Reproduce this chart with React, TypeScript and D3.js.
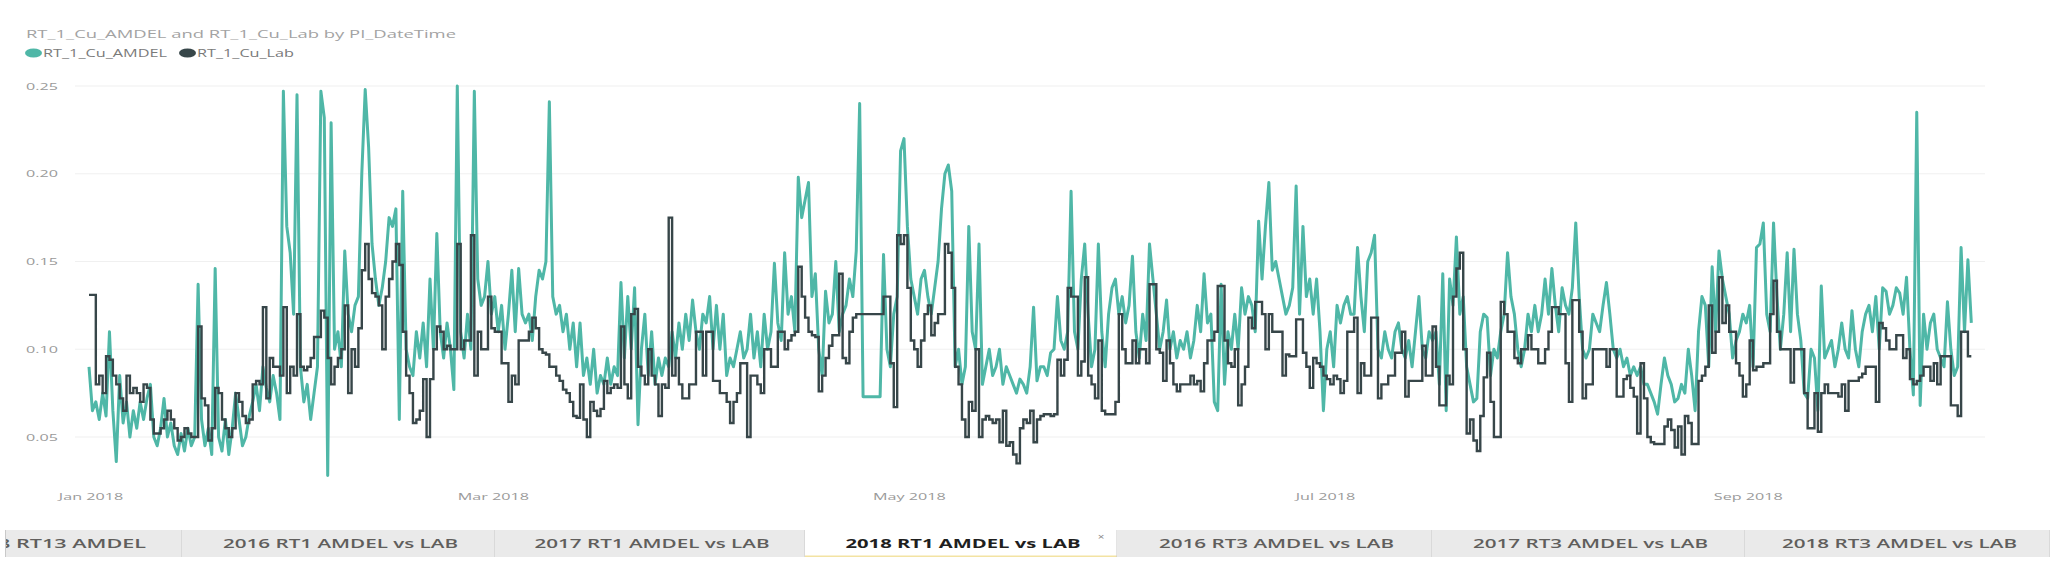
import React from "react";
import * as d3 from "d3";

// ---------- DATA (12-hourly readings, starting 2018-01-01 00:00 UTC) ----------
const START = new Date(Date.UTC(2018, 0, 1));
const STEP_HOURS = 12;

const amdelJan = [.09,.065,.07,.06,.075,.062,.11,.065,.036,.085,
  .058,.07,.05,.065,.055,.07,.06,.072,.08,.05,
  .045,.055,.072,.05,.058,.045,.04,.052,.042,.055,
  .045,.05,.137,.06,.045,.055,.04,.146,.05,.042,
  .06,.04,.055,.075,.06,.045,.05,.062,.07,.08,
  .065,.09,.078,.07,.085,.075,.06,.247,.17,.155];
const amdelFeb = [.12,.245,.09,.07,.08,.06,.075,.09,.247,.232,
  .028,.229,.1,.11,.09,.156,.12,.11,.125,.13,
  .2,.248,.215,.16,.14,.125,.135,.15,.175,.17,
  .18,.06,.19,.1,.09,
  .085,.11,.095,.115,.09,.14,.1,.166,.11,.095,
  .115,.1,.077,.25,.11,.095,.12,.1,.247,.14,.125];
const amdelMar = [.13,.15,.12,.13,.11,.125,.1,.12,.145,.11,
  .146,.12,.115,.12,.105,.13,.145,.14,.15,.241,
  .13,.12,.125,.11,.12,.1,.115,.09,.115,.085,
  .095,.08,.1,.075,.085,.08,.095,.08,.09,.085,
  .138,.095,.13,.1,.135,.057,.1,.12,.085,.11,
  .08,.095,.085,.095,.09,.11,.095,.115,.1,.12,
  .105,.128];
const amdelApr = [.11,.1,.12,.115,.13,.1,.125,.1,.12,.085,
  .095,.09,.1,.11,.095,.1,.12,.095,.11,.09,
  .12,.1,.11,.149,.115,.105,.155,.12,.13,.11,
  .198,.175,.185,.195,.13,.143,.1,.085,.133,.115,
  .12,.15,.11,.12,.125,.14,.13,.156,.24,.073,
  .073,.073,.073,.073,.073,.154,.1,.09,.12,.13];
const amdelMay = [.213,.22,.17,.14,.13,.12,.14,.145,.13,.12,
  .135,.15,.18,.2,.205,.19,.09,.1,.08,.09,
  .17,.11,.1,.16,.08,.09,.1,.085,.09,.1,
  .08,.09,.085,.08,.075,.083,.08,.075,.09,.124,
  .082,.09,
  .09,.085,.098,.1,.13,.105,.1,.11,.19,.11,
  .1,.14,.16,.12,.09,.1,.16,.11,.09,.12];
const amdelJun = [.135,.14,.12,.13,.115,.125,.153,.11,.095,.12,
  .105,.16,.14,.12,.1,.11,.128,.1,.11,.095,
  .105,.1,.11,.095,.105,.125,.11,.143,.115,.12,
  .07,.065,.137,.08,.11,.1,.12,.1,.135,.12,
  .13,.125,.11,.173,.14,.17,.195,.145,.15,.14,
  .13,.12,.125,.135,.193,.12,.17,.13,.14,.12];
const amdelJul = [.14,.11,.065,.1,.11,.09,.125,.115,.125,.13,.12,.12,.158,
  .13,.11,.15,.155,.165,.1,.095,.11,.1,.095,
  .11,.115,.1,.095,.105,.09,.11,.13,.1,.095,
  .11,.105,.11,.08,.143,.065,.14,.125,.164,.12,
  .13,.09,.08,.07,.072,.11,.12,.118,.085,.1,
  .095,.11,.12,.155,.13,.12,.1,.09,.1];
const amdelAug = [.12,.11,.125,.11,.12,.14,.12,.146,.125,.11,
  .135,.125,.12,.135,.172,.13,.1,.095,.1,.12,
  .115,.11,.125,.138,.12,.1,.095,.1,.09,.095,
  .085,.09,.085,.09,.08,.08,.075,.07,.063,.08,
  .095,.085,.08,.07,.072,
  .08,.075,.1,.085,.065,.11,.13,.125,.09,.147,
  .11,.156,.14,.13,.12,.095,.105];
const amdelSep = [.11,.12,.115,.125,.09,.158,.16,.172,.12,.11,
  .172,.13,.1,.12,.155,.11,.157,.12,.105,.075,
  .072,.1,.095,.065,.136,.095,.1,.105,.09,.1,
  .115,.1,.095,.122,.1,.09,.11,.12,.125,.11,
  .13,.1,.135,.133,.12,.125,.135,.132,.12,.141,
  .1,.074,.235,.068,.12,.1,.115,.12,.1,.095];
const amdelOct = [.09,.127,.1,.085,.09,.158,.11,.151,.115];

const labJan = [.131,.131,.08,.085,.075,.096,.094,.085,.08,.072,
  .065,.085,.075,.078,.075,.07,.08,.078,.06,.052,
  .052,.055,.06,.065,.06,.055,.048,.05,.055,.052,
  .05,.05,.113,.072,.068,.048,.055,.078,.075,.06,
  .055,.05,.055,.075,.07,.062,.058,.06,.08,.082,
  .08,.124,.072,.095,.09,.09,.085,.124,.075,.09];
const labFeb = [.085,.12,.09,.088,.09,.095,.107,.107,.122,.118,
  .095,.08,.09,.095,.1,.125,.075,.1,.09,.112,
  .145,.16,.14,.132,.13,.125,.1,.13,.14,.15,
  .16,.148,.11,.085,.075,
  .058,.06,.065,.083,.05,.083,.1,.113,.11,.1,
  .102,.1,.1,.16,.1,.105,.105,.165,.085,.11,.1];
const labMar = [.1,.13,.112,.11,.11,.092,.092,.07,.085,.08,
  .105,.105,.105,.11,.118,.112,.1,.098,.097,.09,
  .09,.085,.082,.077,.075,.07,.062,.061,.08,.06,
  .05,.07,.065,.062,.066,.082,.075,.078,.08,.078,
  .113,.08,.072,.12,.123,.09,.085,.08,.1,.085,
  .08,.062,.08,.078,.175,.085,.095,.08,.072,.072,
  .08,.08];
const labApr = [.11,.11,.085,.11,.11,.082,.082,.075,.075,.07,
  .058,.07,.075,.092,.092,.05,.085,.085,.08,.075,
  .1,.1,.09,.09,.11,.11,.1,.105,.108,.11,
  .147,.13,.118,.11,.108,.107,.076,.085,.095,.102,
  .108,.108,.143,.095,.092,.11,.118,.12,.12,.12,
  .12,.12,.12,.12,.12,.13,.13,.092,.067,.165];
const labMay = [.16,.165,.135,.105,.1,.09,.105,.12,.125,.108,
  .115,.12,.12,.16,.155,.135,.09,.08,.06,.05,
  .07,.065,.1,.05,.06,.062,.06,.058,.06,.047,
  .065,.045,.047,.04,.035,.055,.06,.058,.065,.047,
  .06,.062,
  .063,.063,.062,.063,.094,.085,.094,.135,.13,.13,
  .085,.093,.141,.085,.08,.072,.105,.065,.063,.063];
const labJun = [.063,.07,.12,.1,.092,.092,.105,.092,.1,.1,
  .092,.137,.137,.1,.098,.082,.105,.092,.08,.076,
  .08,.08,.08,.085,.08,.082,.076,.092,.105,.105,
  .11,.136,.136,.105,.092,.09,.1,.068,.08,.09,
  .118,.112,.127,.127,.12,.1,.12,.11,.11,.11,
  .085,.097,.096,.096,.117,.117,.098,.09,.078,.095];
const labJul = [.092,.09,.085,.083,.08,.085,.083,.075,.082,.11,.11,.118,.075,
  .092,.085,.085,.118,.118,.072,.08,.08,.085,.085,
  .098,.098,.11,.073,.082,.082,.082,.082,.102,.085,
  .085,.113,.09,.068,.068,.085,.08,.13,.146,.155,
  .1,.052,.06,.048,.042,.062,.084,.098,.07,.05,
  .05,.127,.12,.11,.11,.095,.092,.1,.1];
const labAug = [.108,.1,.1,.092,.092,.1,.11,.124,.124,.12,
  .12,.092,.07,.128,.128,.11,.072,.08,.08,.1,
  .1,.1,.1,.09,.1,.1,.073,.073,.083,.085,
  .078,.073,.052,.092,.072,.05,.047,.046,.046,.046,
  .056,.06,.054,.044,.056,
  .04,.062,.058,.046,.046,.082,.085,.09,.125,.098,
  .11,.141,.115,.125,.11,.11,.092];
const labSep = [.085,.073,.08,.105,.088,.09,.09,.092,.092,.12,
  .139,.11,.1,.1,.1,.081,.1,.1,.1,.075,
  .055,.055,.075,.053,.075,.08,.075,.075,.075,.073,
  .08,.065,.082,.082,.082,.084,.086,.09,.09,.09,
  .07,.115,.112,.105,.1,.1,.108,.108,.095,.1,
  .083,.08,.082,.085,.09,.09,.082,.092,.08,.096];
const labOct = [.096,.096,.068,.068,.062,.11,.11,.096,.096];

const yTicks = [0.05, 0.10, 0.15, 0.20, 0.25];
const chartTitle = "RT_1_Cu_AMDEL and RT_1_Cu_Lab by PI_DateTime";
const seriesNames = ["RT_1_Cu_AMDEL", "RT_1_Cu_Lab"];
const seriesColors = ["#4fb7a7", "#374649"];
const tabLabels = [
  "2018 RT13 AMDEL",
  "2016 RT1 AMDEL vs LAB",
  "2017 RT1 AMDEL vs LAB",
  "2018 RT1 AMDEL vs LAB",
  "2016 RT3 AMDEL vs LAB",
  "2017 RT3 AMDEL vs LAB",
  "2018 RT3 AMDEL vs LAB",
];
const activeTab = 3;

// ---------- LAYOUT ----------
const W = 2064;
const H = 568;
const SX = 1.7; // horizontal stretch of the reference image's text

type Pt = { t: Date; v: number };

function toPoints(months: number[][]): Pt[] {
  const vals = months.flat();
  return vals.map((v, i) => ({ t: d3.utcHour.offset(START, i * STEP_HOURS), v }));
}

const amdel = toPoints([amdelJan, amdelFeb, amdelMar, amdelApr, amdelMay, amdelJun, amdelJul, amdelAug, amdelSep, amdelOct]);
const lab = toPoints([labJan, labFeb, labMar, labApr, labMay, labJun, labJul, labAug, labSep, labOct]);

export default function App() {
  const end = amdel[amdel.length - 1].t;
  const days = (end.getTime() - START.getTime()) / 86400000;
  const x = d3.scaleUtc().domain([START, end]).range([89, 89 + days * 6.82]);
  const y = d3.scaleLinear().domain([0.05, 0.25]).range([437, 86]);

  const lineA = d3.line<Pt>().x((d) => x(d.t)).y((d) => y(d.v));
  const lineL = d3.line<Pt>().x((d) => x(d.t)).y((d) => y(d.v)).curve(d3.curveStepAfter);

  const xTicks = x.ticks(d3.utcMonth.every(2) as any);
  const fmt = d3.utcFormat("%b %Y");
  const yFmt = d3.format(".2f");

  const tabEdges = [-140, 182, 495, 805, 1117, 1432, 1745, 2050];
  const tabTop = 530;
  const tabH = 27;
  const font = "'Open Sans', 'Noto Sans', sans-serif";

  return (
    <svg
      width={W}
      height={H}
      style={{ position: "absolute", left: 0, top: 0, background: "#fff" }}
      fontFamily={font}
    >
      <defs>
        <clipPath id="tabclip">
          <rect x={5} y={tabTop} width={2045} height={tabH + 2} />
        </clipPath>
      </defs>

      {/* title */}
      <text x={26} y={38} fontSize={10.5} fill="#a3a3a3" textLength={430} lengthAdjust="spacingAndGlyphs">
        {chartTitle}
      </text>

      {/* legend */}
      <ellipse cx={33.5} cy={53} rx={8.5} ry={4.5} fill={seriesColors[0]} />
      <text x={43} y={57} fontSize={10.5} fill="#7a7a7a" textLength={124} lengthAdjust="spacingAndGlyphs">
        {seriesNames[0]}
      </text>
      <ellipse cx={187.5} cy={53} rx={8.5} ry={4.5} fill={seriesColors[1]} />
      <text x={197} y={57} fontSize={10.5} fill="#7a7a7a" textLength={97} lengthAdjust="spacingAndGlyphs">
        {seriesNames[1]}
      </text>

      {/* gridlines + y labels */}
      {yTicks.map((t) => (
        <g key={t}>
          <line x1={75} x2={1985} y1={y(t)} y2={y(t)} stroke="#f0f0f0" strokeWidth={1.2} />
          <text
            transform={`translate(58,${y(t) + 3.5}) scale(${SX},1)`}
            textAnchor="end"
            fontSize={9.5}
            fill="#9a9a9a"
          >
            {yFmt(t)}
          </text>
        </g>
      ))}

      {/* x labels */}
      {xTicks.map((t) => (
        <text
          key={t.getTime()}
          transform={`translate(${x(t) + 2},${500}) scale(${SX},1)`}
          textAnchor="middle"
          fontSize={9.5}
          fill="#9a9a9a"
        >
          {fmt(t)}
        </text>
      ))}

      {/* series */}
      <path d={lineA(amdel) || ""} fill="none" stroke={seriesColors[0]} strokeWidth={3} strokeLinejoin="round" />
      <path d={lineL(lab) || ""} fill="none" stroke={seriesColors[1]} strokeWidth={2.4} strokeLinejoin="miter" />

      {/* tab bar */}
      <g clipPath="url(#tabclip)">
        {tabLabels.map((lbl, i) => {
          const l = tabEdges[i];
          const r = tabEdges[i + 1];
          const active = i === activeTab;
          const first = i === 0;
          return (
            <g key={lbl}>
              <rect x={l} y={tabTop} width={r - l} height={tabH} fill={active ? "#ffffff" : "#eaeaea"} />
              {active && <rect x={l} y={tabTop + tabH - 1.5} width={r - l} height={1.5} fill="#f3e3a3" />}
              <line x1={r} x2={r} y1={tabTop} y2={tabTop + tabH} stroke="#c9c9c9" strokeWidth={1} />
              <text
                x={first ? 146 : (l + r) / 2 + 2}
                y={tabTop + 18}
                textAnchor={first ? "end" : "middle"}
                fontSize={12.5}
                fontWeight={active ? 700 : 600}
                fill={active ? "#1f1f1f" : "#605e5c"}
                textLength={first ? 185 : 235}
                lengthAdjust="spacingAndGlyphs"
              >
                {lbl}
              </text>
              {active && (
                <text transform={`translate(${r - 16},${tabTop + 10}) scale(1.3,1)`} fontSize={9} fill="#8a8a8a" textAnchor="middle">
                  ×
                </text>
              )}
            </g>
          );
        })}
        <line x1={5.5} x2={5.5} y1={tabTop} y2={tabTop + tabH} stroke="#c9c9c9" strokeWidth={1} />
      </g>
    </svg>
  );
}
